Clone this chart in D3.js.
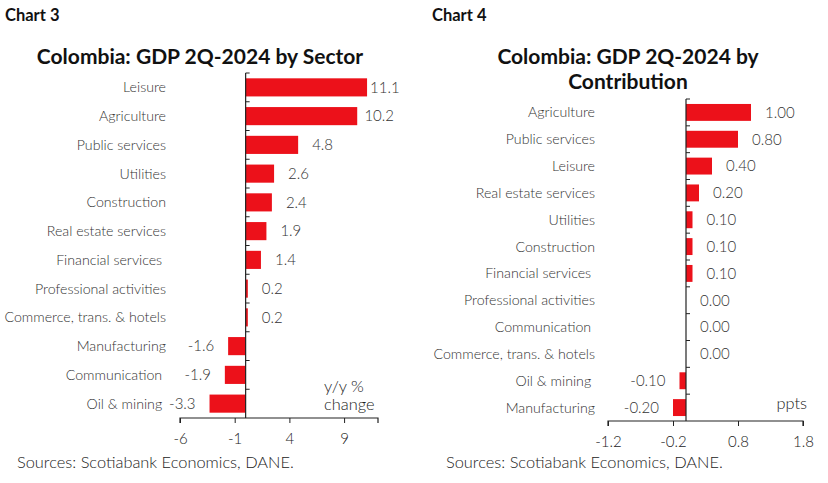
<!DOCTYPE html>
<html lang="en">
<head>
    <meta charset="utf-8">
    <script src="https://d3js.org/d3.v7.min.js"></script>
    <style>
        body { margin: 0; background: #fff; }
        svg text { font-family: Lato, "Open Sans", sans-serif; }
        .head { font-weight: bold; fill: #111; }
        .cat { font-size: 14.2px; font-weight: 300; fill: #333; white-space: pre; }
        .val { font-size: 15px; font-weight: 300; fill: #333; }
        .tick text { font-size: 15px; font-weight: 300; fill: #222; }
        .src { font-size: 16.4px; font-weight: 300; fill: #222; }
    </style>
</head>
<body>
<script>
    // chart 3: y/y % change by sector
    const sectorCats = ["Leisure", "Agriculture", "Public services", "Utilities", "Construction",
        "Real estate services", "Financial services ", "Professional activities",
        "Commerce, trans. & hotels", "Manufacturing", "Communication ", "Oil & mining "];
    const sectorVals = [11.1, 10.2, 4.8, 2.6, 2.4, 1.9, 1.4, 0.2, 0.2, -1.6, -1.9, -3.3];
    const sectorTicks = [-6, -1, 4, 9];
    const sectorDomain = [-6, 12.1];

    // chart 4: contribution in ppts
    const contribCats = ["Agriculture", "Public services", "Leisure", "Real estate services",
        "Utilities", "Construction", "Financial services ", "Professional activities",
        "Communication ", "Commerce, trans. & hotels", "Oil & mining ", "Manufacturing"];
    const contribVals = [1.00, 0.80, 0.40, 0.20, 0.10, 0.10, 0.10, 0.00, 0.00, 0.00, -0.10, -0.20];
    const contribTicks = [-1.2, -0.2, 0.8, 1.8];
    const contribDomain = [-1.2, 1.8];

    const red = "#ec111a";

    const svg = d3.select("body").append("svg")
        .attr("width", 828)
        .attr("height", 483);

    function drawChart(opt) {
        const g = svg.append("g");
        const x = d3.scaleLinear().domain(opt.domain).range([opt.left, opt.right]);
        const y = d3.scaleBand().domain(d3.range(opt.cats.length)).range([opt.top, opt.bottom]);
        const bh = y.bandwidth() * 0.63;

        // header
        g.append("text").attr("class", "head")
            .attr("x", opt.chartX).attr("y", 21)
            .style("font-size", "16.5px")
            .text(opt.chartName);
        opt.title.forEach(function(t, i) {
            g.append("text").attr("class", "head")
                .attr("x", opt.titleX).attr("y", 64 + i * 25)
                .attr("text-anchor", "middle")
                .style("font-size", "21px")
                .text(t);
        });

        // bars
        g.selectAll("rect.bar")
            .data(opt.vals)
            .enter()
            .append("rect")
            .attr("class", "bar")
            .attr("x", function(d) { return x(Math.min(0, d)); })
            .attr("y", function(d, i) { return y(i) + (y.bandwidth() - bh) / 2; })
            .attr("width", function(d) { return Math.abs(x(d) - x(0)); })
            .attr("height", bh)
            .attr("fill", red);

        // value labels, pushed inward when they would run past the plot edge
        g.selectAll("text.val")
            .data(opt.vals)
            .enter()
            .append("text")
            .attr("class", "val")
            .attr("y", function(d, i) { return y(i) + y.bandwidth() / 2; })
            .attr("dy", "0.35em")
            .text(function(d) { return d.toFixed(opt.dec); })
            .each(function(d) {
                const w = this.getComputedTextLength();
                let px;
                if (d >= 0) {
                    px = Math.max(x(d) + 3, Math.min(x(d) + 14, opt.labelMax - w));
                } else {
                    px = x(d) - 14 - w;
                }
                d3.select(this).attr("x", px);
            });

        // category labels
        g.selectAll("text.cat")
            .data(opt.cats)
            .enter()
            .append("text")
            .attr("class", "cat")
            .attr("x", opt.catX)
            .attr("y", function(d, i) { return y(i) + y.bandwidth() / 2; })
            .attr("dy", "0.35em")
            .attr("text-anchor", "end")
            .text(function(d) { return d; });

        // vertical axis at zero with ticks on band edges
        const edges = d3.range(opt.cats.length).map(function(i) { return y(i); });
        g.append("line")
            .attr("x1", x(0)).attr("x2", x(0))
            .attr("y1", opt.top).attr("y2", opt.bottom)
            .attr("stroke", "#222").attr("stroke-width", 1.2);
        g.selectAll("line.ytick")
            .data(edges)
            .enter()
            .append("line")
            .attr("class", "ytick")
            .attr("x1", x(0)).attr("x2", x(0) + 4)
            .attr("y1", function(d) { return d; })
            .attr("y2", function(d) { return d; })
            .attr("stroke", "#222");

        // x axis
        const ax = g.append("g")
            .attr("transform", "translate(0," + opt.bottom + ")")
            .call(d3.axisBottom(x)
                .tickValues(opt.ticks)
                .tickSize(5)
                .tickPadding(10)
                .tickFormat(function(d) { return String(+d.toFixed(1)); }));
        ax.select(".domain").attr("stroke", "#222").attr("stroke-width", 1.2)
            .attr("d", "M" + opt.left + ",5V0H" + opt.right + "V5");
        ax.selectAll(".tick line").attr("stroke", "#222");
        ax.selectAll(".tick text").attr("font-family", null).attr("font-size", null);

        // unit note
        opt.unit.forEach(function(t, i) {
            g.append("text").attr("class", "src")
                .attr("x", opt.unitX).attr("y", opt.unitY + i * 18)
                .attr("text-anchor", opt.unitAnchor)
                .text(t);
        });

        g.append("text").attr("class", "src")
            .attr("x", opt.srcX).attr("y", 468)
            .text("Sources: Scotiabank Economics, DANE.");
    }

    drawChart({
        chartName: "Chart 3", chartX: 5,
        title: ["Colombia: GDP 2Q-2024 by Sector"], titleX: 200,
        cats: sectorCats, vals: sectorVals, ticks: sectorTicks, domain: sectorDomain, dec: 1,
        left: 180, right: 378, top: 73, bottom: 418,
        catX: 166, labelMax: 394,
        unit: ["y/y %", "change"], unitX: 324, unitY: 392, unitAnchor: "start",
        srcX: 17
    });

    drawChart({
        chartName: "Chart 4", chartX: 432,
        title: ["Colombia: GDP 2Q-2024 by", "Contribution"], titleX: 628,
        cats: contribCats, vals: contribVals, ticks: contribTicks, domain: contribDomain, dec: 2,
        left: 608, right: 803, top: 99, bottom: 421,
        catX: 595, labelMax: 820,
        unit: ["ppts"], unitX: 807, unitY: 409, unitAnchor: "end",
        srcX: 446
    });
</script>
</body>
</html>
